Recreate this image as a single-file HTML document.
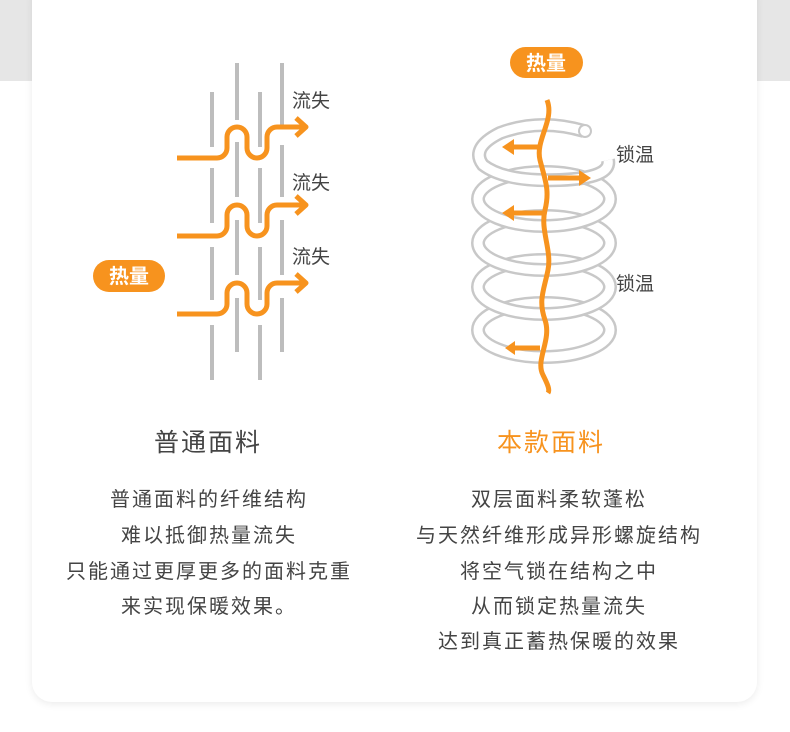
<!DOCTYPE html>
<html><head><meta charset="utf-8"><style>
html,body{margin:0;padding:0;background:#fff;}
body{width:790px;height:732px;position:relative;overflow:hidden;font-family:"Liberation Sans","Noto Sans CJK SC",sans-serif;}
.band{position:absolute;left:0;top:0;width:790px;height:81px;background:#e6e6e6;}
.card{position:absolute;left:32px;top:-20px;width:725px;height:722px;background:#fff;border-radius:20px;box-shadow:0 2px 8px rgba(0,0,0,0.08);}
svg{position:absolute;left:0;top:0;}
</style></head><body>
<div class="band"></div>
<div class="card"></div>
<svg width="790" height="732" viewBox="0 0 790 732" font-family="Liberation Sans, Noto Sans CJK SC, sans-serif">
<g stroke="#bdbdbd" stroke-width="4">
<line x1="212" y1="92" x2="212" y2="147"/><line x1="212" y1="168" x2="212" y2="223"/><line x1="212" y1="247" x2="212" y2="300"/><line x1="212" y1="325" x2="212" y2="380"/>
<line x1="237" y1="63" x2="237" y2="120"/><line x1="237" y1="142" x2="237" y2="197"/><line x1="237" y1="220" x2="237" y2="275"/><line x1="237" y1="298" x2="237" y2="352"/>
<line x1="260" y1="92" x2="260" y2="147"/><line x1="260" y1="168" x2="260" y2="223"/><line x1="260" y1="247" x2="260" y2="300"/><line x1="260" y1="325" x2="260" y2="380"/>
<line x1="282" y1="63" x2="282" y2="125"/><line x1="282" y1="145" x2="282" y2="197"/><line x1="282" y1="220" x2="282" y2="275"/><line x1="282" y1="298" x2="282" y2="352"/>
</g>
<g fill="none" stroke="#f7931e" stroke-width="5" stroke-linejoin="round">
<path id="w" d="M177 158 H217 A10 10 0 0 0 227 148 V137 A10 10 0 0 1 247 137 V148 A10 10 0 0 0 267 148 V137 A10 10 0 0 1 277 127 H305 M296 118 L306 127 L296 136"/>
<use href="#w" y="78"/><use href="#w" y="156"/>
</g>
<g font-size="19" fill="#444"><text x="292" y="107">流失</text><text x="292" y="189">流失</text><text x="292" y="263">流失</text>
<text x="616" y="161">锁温</text><text x="616" y="290">锁温</text></g>
<rect x="93" y="260" width="72" height="32" rx="16" fill="#f7931e"/>
<text x="129" y="283" text-anchor="middle" font-size="20" font-weight="bold" fill="#fff">热量</text>
<rect x="510" y="47" width="73" height="31" rx="15.5" fill="#f7931e"/>
<text x="546" y="70" text-anchor="middle" font-size="20" font-weight="bold" fill="#fff">热量</text>
<g fill="none">
<g stroke="#c8c8c8" stroke-width="14"><ellipse cx="544" cy="330" rx="66" ry="27"/></g><g stroke="#fff" stroke-width="9"><ellipse cx="544" cy="330" rx="66" ry="27"/></g>
<g stroke="#c8c8c8" stroke-width="14"><ellipse cx="544" cy="287" rx="66" ry="27"/></g><g stroke="#fff" stroke-width="9"><ellipse cx="544" cy="287" rx="66" ry="27"/></g>
<g stroke="#c8c8c8" stroke-width="14"><ellipse cx="544" cy="243" rx="66" ry="27"/></g><g stroke="#fff" stroke-width="9"><ellipse cx="544" cy="243" rx="66" ry="27"/></g>
<g stroke="#c8c8c8" stroke-width="14"><ellipse cx="544" cy="199" rx="66" ry="27"/></g><g stroke="#fff" stroke-width="9"><ellipse cx="544" cy="199" rx="66" ry="27"/></g>
<g stroke="#c8c8c8" stroke-width="14"><path d="M584 131 Q540 118 500 133 Q470 148 483 165 Q505 182 560 180 Q612 178 608 160"/></g>
<g stroke="#fff" stroke-width="9"><path d="M584 131 Q540 118 500 133 Q470 148 483 165 Q505 182 560 180 Q612 178 608 160"/></g>
</g>
<circle cx="585" cy="131" r="6" fill="#fff" stroke="#c8c8c8" stroke-width="2"/>
<g fill="none" stroke="#f7931e" stroke-width="5">
<path d="M547 100 C555 120 535 140 540 160 C545 180 550 190 545 210 C540 230 552 250 548 270 C544 290 538 300 545 320 C552 340 535 360 543 375 C548 385 550 390 548 393"/>
<path d="M540 147 H508 M548 178 H585 M545 213 H508 M540 348 H510"/>
</g>
<g fill="#f7931e"><path d="M502 147 L514 139 L514 155Z"/><path d="M591 178 L579 170 L579 186Z"/><path d="M502 213 L514 205 L514 221Z"/><path d="M505 348 L515 341 L515 355Z"/></g>
<g text-anchor="middle" font-size="25" letter-spacing="2"><text x="208" y="451" fill="#444">普通面料</text><text x="551" y="451" fill="#f7931e">本款面料</text></g>
<g text-anchor="middle" font-size="20" letter-spacing="2" fill="#444">
<text x="209" y="506">普通面料的纤维结构</text><text x="209" y="542">难以抵御热量流失</text><text x="209" y="578">只能通过更厚更多的面料克重</text><text x="209" y="613">来实现保暖效果。</text>
<text x="559" y="506">双层面料柔软蓬松</text><text x="559" y="542">与天然纤维形成异形螺旋结构</text><text x="559" y="578">将空气锁在结构之中</text><text x="559" y="613">从而锁定热量流失</text><text x="559" y="648">达到真正蓄热保暖的效果</text>
</g>
</svg>
</body></html>
